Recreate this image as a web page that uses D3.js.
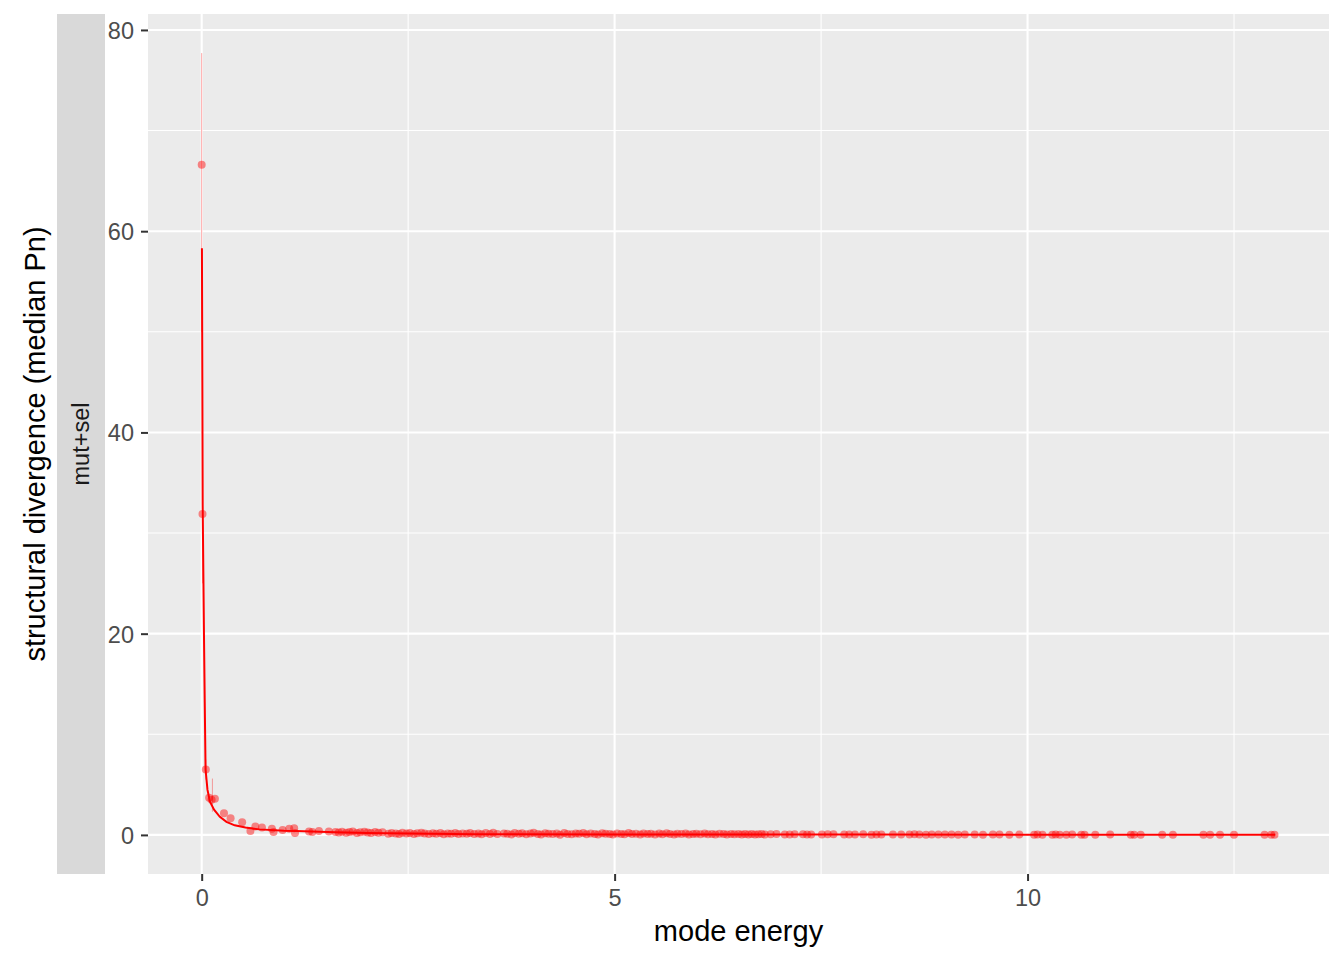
<!DOCTYPE html>
<html>
<head>
<meta charset="utf-8">
<script src="https://cdn.jsdelivr.net/npm/d3@7"></script>
<style>
  body { margin: 0; background: #fff; }
  text { font-family: "Liberation Sans", Arial, sans-serif; }
</style>
</head>
<body>
<div id="chart"></div>
<script>
var svgWidth = 1344;
var svgHeight = 960;

// panel box
var panel = { left: 148, right: 1329, top: 14, bottom: 874 };
var strip = { left: 57, right: 105 };

var facetLabel = "mut+sel";
var xTitle = "mode energy";
var yTitle = "structural divergence (median Pn)";
var xTicks = [0, 5, 10];
var xMinor = [2.5, 7.5, 12.5];
var yTicks = [0, 20, 40, 60, 80];
var yMinor = [10, 30, 50, 70];

// points: [mode energy, median Pn]
var pointsHead = [
  [0.00, 66.6], [0.01, 31.9], [0.05, 6.5], [0.09, 3.7], [0.12, 3.5], [0.16, 3.6],
  [0.27, 2.15], [0.35, 1.65], [0.49, 1.26], [0.59, 0.40], [0.65, 0.83], [0.73, 0.73],
  [0.85, 0.60], [0.87, 0.30], [0.98, 0.50], [1.06, 0.60], [1.12, 0.66], [1.13, 0.20],
  [1.30, 0.33], [1.34, 0.30], [1.42, 0.40], [1.54, 0.33]
];
var pointsMid = [
  [1.62, 0.30], [1.66, 0.25], [1.70, 0.32], [1.75, 0.22], [1.79, 0.28], [1.83, 0.35],
  [1.88, 0.20], [1.92, 0.26], [1.97, 0.31], [2.01, 0.24], [2.05, 0.18], [2.10, 0.29],
  [2.14, 0.22], [2.19, 0.27], [2.26, 0.12], [2.30, 0.20], [2.35, 0.15], [2.39, 0.08],
  [2.43, 0.22], [2.48, 0.14], [2.52, 0.18], [2.57, 0.10], [2.61, 0.16], [2.66, 0.21],
  [2.70, 0.13], [2.75, 0.09], [2.80, 0.17], [2.84, 0.12], [2.89, 0.19], [2.93, 0.06],
  [2.98, 0.14], [3.02, 0.11], [3.07, 0.20], [3.11, 0.08], [3.16, 0.15], [3.21, 0.12],
  [3.25, 0.18], [3.30, 0.10]
];
var pointsDense = [
  [3.35, 0.14], [3.39, 0.06], [3.44, 0.18], [3.49, 0.10], [3.53, 0.22], [3.58, 0.08],
  [3.66, 0.15], [3.70, 0.12], [3.75, 0.04], [3.79, 0.19], [3.84, 0.11], [3.88, 0.16],
  [3.93, 0.07], [3.98, 0.13], [4.02, 0.21], [4.07, 0.09], [4.11, 0.05], [4.16, 0.17],
  [4.20, 0.12], [4.25, 0.08], [4.30, 0.14], [4.34, 0.02], [4.39, 0.18], [4.43, 0.10],
  [4.48, 0.06], [4.53, 0.15], [4.57, 0.11], [4.62, 0.20], [4.66, 0.07], [4.71, 0.13],
  [4.76, 0.09], [4.80, 0.04], [4.85, 0.16], [4.89, 0.12], [4.94, 0.08], [4.98, 0.03],
  [5.03, 0.14], [5.08, 0.10], [5.12, 0.06], [5.17, 0.18], [5.21, 0.09], [5.26, 0.12],
  [5.31, 0.05], [5.35, 0.15], [5.40, 0.08], [5.44, 0.11], [5.49, 0.03], [5.54, 0.13],
  [5.58, 0.07], [5.63, 0.16], [5.67, 0.10], [5.72, 0.05], [5.76, 0.12], [5.81, 0.08],
  [5.86, 0.14], [5.90, 0.04], [5.95, 0.09], [5.99, 0.11], [6.04, 0.06], [6.09, 0.13],
  [6.13, 0.07], [6.18, 0.10], [6.22, 0.03], [6.27, 0.12], [6.32, 0.08], [6.36, 0.05],
  [6.41, 0.10], [6.45, 0.06], [6.50, 0.09], [6.54, 0.04]
];
var pointsTail = [
  [6.58, 0.08], [6.62, 0.05], [6.66, 0.10], [6.70, 0.04], [6.74, 0.07], [6.78, 0.09],
  [6.82, 0.03], [6.89, 0.06], [6.96, 0.08], [7.06, 0.05], [7.12, 0.04], [7.18, 0.07],
  [7.28, 0.06], [7.33, 0.03], [7.38, 0.05], [7.51, 0.04], [7.58, 0.06], [7.65, 0.07],
  [7.78, 0.03], [7.84, 0.05], [7.91, 0.04], [8.01, 0.06], [8.11, 0.02], [8.17, 0.05],
  [8.23, 0.04], [8.37, 0.03], [8.47, 0.05], [8.57, 0.04], [8.63, 0.06], [8.69, 0.03],
  [8.77, 0.02], [8.84, 0.04], [8.92, 0.05], [9.00, 0.03], [9.08, 0.04], [9.16, 0.02],
  [9.24, 0.03], [9.36, 0.04], [9.46, 0.02], [9.58, 0.03], [9.66, 0.04], [9.78, 0.02],
  [9.90, 0.03], [10.08, 0.02], [10.12, 0.03], [10.18, 0.02], [10.30, 0.02], [10.34, 0.03],
  [10.39, 0.02], [10.47, 0.02], [10.54, 0.03], [10.65, 0.02], [10.69, 0.02], [10.82, 0.02],
  [11.00, 0.03], [11.25, 0.02], [11.29, 0.02], [11.37, 0.02], [11.63, 0.02], [11.76, 0.02],
  [12.13, 0.02], [12.21, 0.02], [12.33, 0.02], [12.50, 0.02], [12.87, 0.02], [12.95, 0.02],
  [12.99, 0.02]
];

// error bars: [x, low, high]
var errBars = [
  [0.00, 50.0, 77.7], [0.01, 25.0, 38.0], [0.05, 5.5, 7.5], [0.13, 2.3, 5.6]
];

// fitted curve
var fitX = [0.003, 0.008, 0.012, 0.020, 0.028, 0.037, 0.047, 0.07, 0.10, 0.15, 0.22,
            0.30, 0.40, 0.53, 0.70, 1.00, 1.14, 1.62, 2.0, 3.3, 5.0, 8.0, 13.0];
var fitY = [58.3, 45.0, 32.8, 26.2, 19.7, 13.2, 6.5, 4.5, 3.3, 2.5, 1.8,
            1.3, 0.95, 0.73, 0.55, 0.42, 0.40, 0.27, 0.20, 0.07, 0.05, 0.03, 0.02];

var points = pointsHead.concat(pointsMid, pointsDense, pointsTail);
var fit = fitX.map(function(x, i) { return [x, fitY[i]]; });

var svg = d3.select("#chart")
  .append("svg")
  .attr("width", svgWidth)
  .attr("height", svgHeight);

// scales with ggplot-style 5% expansion
var allX = points.map(d => d[0]).concat(fitX, errBars.map(d => d[0]));
var allY = points.map(d => d[1]).concat(fitY, errBars.map(d => d[1]), errBars.map(d => d[2]));
var xr = d3.extent(allX), yr = [0, d3.max(allY)];
var xPad = (xr[1] - xr[0]) * 0.05, yPad = (yr[1] - yr[0]) * 0.05;

var x = d3.scaleLinear()
  .domain([xr[0] - xPad, xr[1] + xPad])
  .range([panel.left, panel.right]);
var y = d3.scaleLinear()
  .domain([yr[0] - yPad, yr[1] + yPad])
  .range([panel.bottom, panel.top]);

// panel background
svg.append("rect")
  .attr("x", panel.left).attr("y", panel.top)
  .attr("width", panel.right - panel.left)
  .attr("height", panel.bottom - panel.top)
  .attr("fill", "#ebebeb");

// grid
var grid = svg.append("g");
grid.selectAll(".xminor").data(xMinor).enter().append("line")
  .attr("x1", d => x(d)).attr("x2", d => x(d))
  .attr("y1", panel.top).attr("y2", panel.bottom)
  .attr("stroke", "#fff").attr("stroke-width", 1.1);
grid.selectAll(".yminor").data(yMinor).enter().append("line")
  .attr("x1", panel.left).attr("x2", panel.right)
  .attr("y1", d => y(d)).attr("y2", d => y(d))
  .attr("stroke", "#fff").attr("stroke-width", 1.1);
grid.selectAll(".xmajor").data(xTicks).enter().append("line")
  .attr("x1", d => x(d)).attr("x2", d => x(d))
  .attr("y1", panel.top).attr("y2", panel.bottom)
  .attr("stroke", "#fff").attr("stroke-width", 2.1);
grid.selectAll(".ymajor").data(yTicks).enter().append("line")
  .attr("x1", panel.left).attr("x2", panel.right)
  .attr("y1", d => y(d)).attr("y2", d => y(d))
  .attr("stroke", "#fff").attr("stroke-width", 2.1);

// error bars
svg.append("g").selectAll("line").data(errBars).enter().append("line")
  .attr("x1", d => x(d[0])).attr("x2", d => x(d[0]))
  .attr("y1", d => y(d[1])).attr("y2", d => y(d[2]))
  .attr("stroke", "#ff0000").attr("stroke-opacity", 0.35)
  .attr("stroke-width", 1);

// points
svg.append("g").selectAll("circle").data(points).enter().append("circle")
  .attr("cx", d => x(d[0]))
  .attr("cy", d => y(d[1]))
  .attr("r", 4)
  .attr("fill", "#ff0000")
  .attr("fill-opacity", 0.45);

// fitted line
var line = d3.line().x(d => x(d[0])).y(d => y(d[1]));
svg.append("path")
  .datum(fit)
  .attr("d", line)
  .attr("fill", "none")
  .attr("stroke", "#ff0000")
  .attr("stroke-width", 2);

// axes
var bottomAxis = d3.axisBottom(x).tickValues(xTicks).tickSize(7).tickPadding(5).tickFormat(d3.format("d"));
var leftAxis = d3.axisLeft(y).tickValues(yTicks).tickSize(7).tickPadding(5).tickFormat(d3.format("d"));

var gx = svg.append("g")
  .attr("transform", `translate(0, ${panel.bottom})`)
  .call(bottomAxis);
var gy = svg.append("g")
  .attr("transform", `translate(${panel.left}, 0)`)
  .call(leftAxis);

[gx, gy].forEach(function(g) {
  g.select(".domain").remove();
  g.selectAll(".tick line").attr("stroke", "#333333").attr("stroke-width", 2);
  g.selectAll(".tick text")
    .attr("fill", "#4d4d4d")
    .attr("font-size", 23.5)
    .attr("font-family", "Liberation Sans, Arial, sans-serif");
});
gy.selectAll(".tick text").attr("x", -14).attr("dy", "0.36em");
gx.selectAll(".tick text").attr("y", 15).attr("dy", "0.71em");

// facet strip on the left
svg.append("rect")
  .attr("x", strip.left).attr("y", panel.top)
  .attr("width", strip.right - strip.left)
  .attr("height", panel.bottom - panel.top)
  .attr("fill", "#d9d9d9");
svg.append("text")
  .attr("transform", `translate(${(strip.left + strip.right) / 2}, ${(panel.top + panel.bottom) / 2}) rotate(-90)`)
  .attr("text-anchor", "middle")
  .attr("dy", "0.36em")
  .attr("font-size", 23.5)
  .attr("fill", "#1a1a1a")
  .text(facetLabel);

// axis titles
svg.append("text")
  .attr("x", (panel.left + panel.right) / 2)
  .attr("y", 941)
  .attr("text-anchor", "middle")
  .attr("font-size", 29)
  .attr("fill", "#000")
  .text(xTitle);

svg.append("text")
  .attr("transform", `translate(45, ${(panel.top + panel.bottom) / 2}) rotate(-90)`)
  .attr("text-anchor", "middle")
  .attr("font-size", 29)
  .attr("fill", "#000")
  .text(yTitle);
</script>
</body>
</html>
